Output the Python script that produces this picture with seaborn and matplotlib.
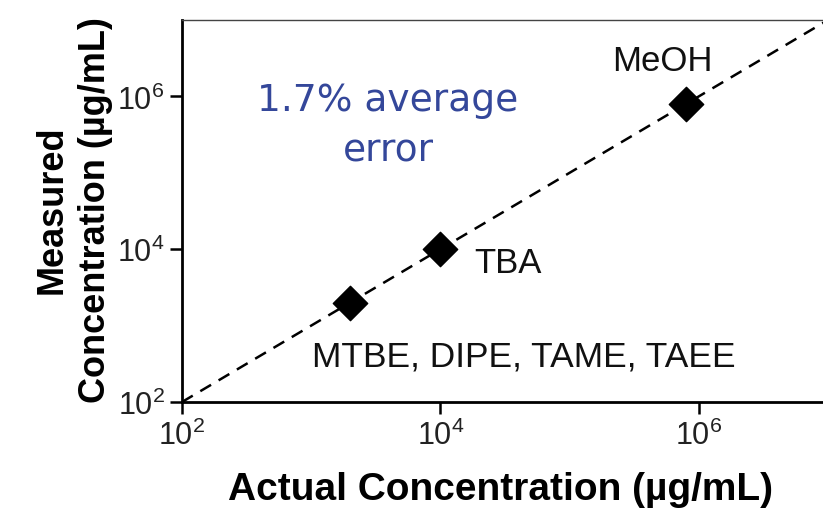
import matplotlib
matplotlib.use("Agg")
import matplotlib.pyplot as plt
import seaborn as sns
import pandas as pd
from matplotlib.ticker import LogLocator, NullLocator

# ---- data ----
compounds = ["MTBE, DIPE, TAME, TAEE", "TBA", "MeOH"]
actual = [2000, 10000, 800000]
measured = [2000, 10000, 800000]
identity_x = [1e2, 1e7]
identity_y = [1e2, 1e7]
annotation = "1.7% average\nerror"
x_label = "Actual Concentration (µg/mL)"
y_label = "Measured\nConcentration (µg/mL)"

df = pd.DataFrame({"compound": compounds, "actual": actual, "measured": measured})
line_df = pd.DataFrame({"x": identity_x, "y": identity_y})

sns.set_theme(style="white")
plt.rcParams["font.family"] = ["Liberation Sans", "DejaVu Sans"]
plt.rcParams["mathtext.fontset"] = "custom"
plt.rcParams["mathtext.rm"] = "Liberation Sans"
plt.rcParams["mathtext.it"] = "Liberation Sans:italic"
plt.rcParams["mathtext.bf"] = "Liberation Sans:bold"

fig = plt.figure(figsize=(8.23, 5.10), dpi=100)
ax = fig.add_axes([182 / 823, 1 - 403 / 510, (828 - 182) / 823, (403 - 21) / 510])

sns.lineplot(data=line_df, x="x", y="y", ax=ax, color="black", linestyle=(0, (5, 3.5)),
             linewidth=1.8)
sns.scatterplot(data=df, x="actual", y="measured", ax=ax, marker="D", s=17.5 ** 2,
                color="black", edgecolor="black", linewidth=1, zorder=5)

ax.set_xscale("log")
ax.set_yscale("log")
ax.set_xlim(1e2, 1e7)
ax.set_ylim(1e2, 1e7)
ax.xaxis.set_major_locator(LogLocator(base=100))
ax.yaxis.set_major_locator(LogLocator(base=100))
ax.xaxis.set_minor_locator(NullLocator())
ax.yaxis.set_minor_locator(NullLocator())

for s in ["left", "bottom"]:
    ax.spines[s].set_linewidth(2)
    ax.spines[s].set_color("black")
ax.spines["top"].set_linewidth(1)
ax.spines["top"].set_color("#444444")
ax.spines["right"].set_visible(False)

ax.tick_params(axis="both", which="major", direction="out", length=8.5, width=1.8,
               color="black", labelsize=22, labelcolor="#222222", pad=4,
               bottom=True, left=True)

ax.set_xlabel(x_label, fontsize=28, fontweight="bold", color="black")
ax.set_ylabel(y_label, fontsize=26, fontweight="bold", color="black", linespacing=1.3)
ax.xaxis.set_label_coords((500 - 182) / (828 - 182), -(490 - 403) / (403 - 21), transform=ax.transAxes)
ax.xaxis.label.set_va("center")
ax.yaxis.set_label_coords(-(182 - 74) / (828 - 182), (403 - 210) / (403 - 21), transform=ax.transAxes)
ax.yaxis.label.set_va("center")

# compound labels
ax.annotate(compounds[2], (actual[2], measured[2]), xytext=(-24, 43), textcoords="offset pixels",
            ha="center", va="center", fontsize=25, color="#111111")
ax.annotate(compounds[1], (actual[1], measured[1]), xytext=(68, -13), textcoords="offset pixels",
            ha="center", va="center", fontsize=25, color="#111111")
ax.annotate(compounds[0], (actual[0], measured[0]), xytext=(174, -53), textcoords="offset pixels",
            ha="center", va="center", fontsize=25.5, color="#111111")

ax.text((388 - 182) / (828 - 182), (403 - 126) / (403 - 21), annotation, transform=ax.transAxes,
        ha="center", va="center", fontsize=27, color="#34479a", family="DejaVu Sans",
        linespacing=1.5)

fig.savefig("out.png", dpi=100)
